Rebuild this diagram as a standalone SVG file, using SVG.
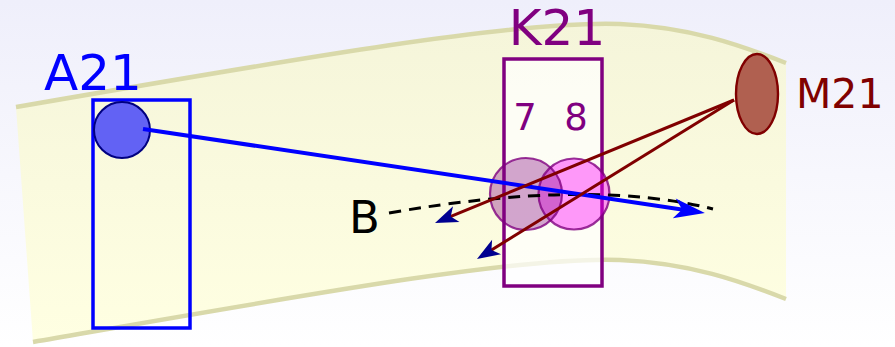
<svg xmlns="http://www.w3.org/2000/svg" width="895" height="347" viewBox="0 0 895 347">
<defs>
<linearGradient id="bg" x1="0" y1="0" x2="0" y2="1">
<stop offset="0" stop-color="#efeffb"/>
<stop offset="1" stop-color="#ffffff"/>
</linearGradient>
<linearGradient id="band" x1="0" y1="0" x2="0" y2="1">
<stop offset="0" stop-color="#f5f5da"/>
<stop offset="1" stop-color="#ffffe2"/>
</linearGradient>
<marker id="blueHead" markerUnits="userSpaceOnUse" viewBox="-25 -12 40 24" markerWidth="40" markerHeight="24" refX="0" refY="0" orient="auto" overflow="visible">
<path d="M10,0 L-21,-10 L-13,0 L-21,10 Z" fill="#0000ff"/>
</marker>
<marker id="navyHead" markerUnits="userSpaceOnUse" viewBox="-20 -10 30 20" markerWidth="30" markerHeight="20" refX="0" refY="0" orient="auto" overflow="visible">
<path d="M8,0 L-15,-8.5 L-9,0 L-15,8.5 Z" fill="#000090"/>
</marker>
</defs>
<style>
.lbl{font-family:"DejaVu Sans","Liberation Sans",sans-serif}
.edge{fill:none;stroke:#d9d9aa;stroke-width:4.5}
</style>
<rect x="0" y="0" width="895" height="347" fill="url(#bg)"/>
<g id="band">
<path d="M16,107 C300,58 520,20 620,24 C690,27 740,45 786,63 L786,299 C740,281 690,263 620,260 C520,256 310,294 33,342 Z" fill="url(#band)"/>
<path class="edge" d="M16,107 C300,58 520,20 620,24 C690,27 740,45 786,63"/>
<path class="edge" d="M33,342 C310,294 520,256 620,260 C690,263 740,281 786,299"/>
</g>
<g id="K21">
<rect x="504" y="59" width="98" height="227" fill="#ffffff" fill-opacity="0.7" stroke="#800080" stroke-width="3.5"/>
<text class="lbl" x="557" y="45" font-size="50" fill="#800080" text-anchor="middle">K21</text>
<text class="lbl" x="525" y="130" font-size="37" fill="#800080" text-anchor="middle">7</text>
<text class="lbl" x="576" y="130" font-size="37" fill="#800080" text-anchor="middle">8</text>
</g>
<g id="A21">
<rect x="93" y="100" width="97" height="228" fill="none" stroke="#0000ff" stroke-width="3.5"/>
<text class="lbl" x="93" y="90" font-size="50" fill="#0000ff" text-anchor="middle">A21</text>
<circle cx="122" cy="130" r="28" fill="#6262f4" stroke="#000080" stroke-width="2"/>
</g>
<g id="circle8">
<circle cx="574" cy="194" r="35.5" fill="#ff00ff" fill-opacity="0.4" stroke="#800080" stroke-opacity="0.8" stroke-width="2.2"/>
</g>
<g id="circle7">
<circle cx="526" cy="194" r="36" fill="#800080" fill-opacity="0.35" stroke="#800080" stroke-opacity="0.8" stroke-width="2.2"/>
</g>
<g id="M21">
<ellipse cx="757" cy="94" rx="21" ry="40" fill="#b06050" stroke="#800000" stroke-width="2.4"/>
<text class="lbl" x="796" y="108" font-size="41" fill="#800000">M21</text>
</g>
<g id="B">
<text class="lbl" x="349" y="233" font-size="45" fill="#000000">B</text>
</g>
<g id="connectors">
<path d="M389,213 Q590,178 713,209" fill="none" stroke="#000000" stroke-width="3" stroke-dasharray="12,8"/>
<path d="M143,129 L695,211.5" fill="none" stroke="#0000ff" stroke-width="4" marker-end="url(#blueHead)"/>
<path d="M734,100 L442.4,219.9" fill="none" stroke="#800000" stroke-width="3" marker-end="url(#navyHead)"/>
<path d="M734,100 L483.8,254.8" fill="none" stroke="#800000" stroke-width="3" marker-end="url(#navyHead)"/>
</g>
</svg>
